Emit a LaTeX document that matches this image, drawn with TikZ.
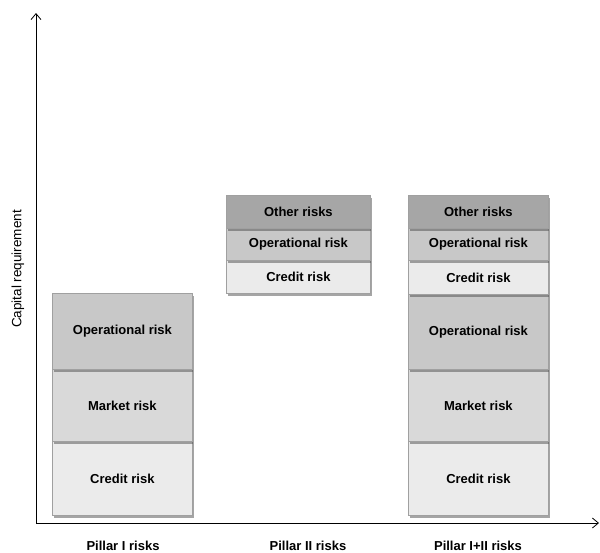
\documentclass[tikz,border=0pt]{standalone}
\usepackage{fontspec}
\setmainfont{Liberation Sans}
\usetikzlibrary{shadows,arrows.meta}
\definecolor{cother}{HTML}{A6A6A6}
\definecolor{coper}{HTML}{C8C8C8}
\definecolor{cmarket}{HTML}{D9D9D9}
\definecolor{ccredit}{HTML}{EBEBEB}
\definecolor{cborder}{HTML}{A0A0A0}
\tikzset{
  seg/.style={draw=cborder, line width=0.8pt, anchor=north west, inner sep=0pt,
    font=\bfseries\fontsize{13}{15}\selectfont,
    drop shadow={shadow xshift=2pt, shadow yshift=-2.5pt, opacity=0.5, fill=black!70}},
  axis/.style={line width=1pt, -{Straight Barb[length=6pt,width=10pt,line width=0.8pt]}},
  lbl/.style={font=\bfseries\fontsize{13}{15}\selectfont}
}
\newcommand{\seg}[7]{% name, x, ytop, ybottom, width, color, text
  \node[seg, fill=#6, minimum width=#5pt, minimum height={(#4-#3)*1pt}] (#1) at (#2,#3) {#7};}
\begin{document}
\begin{tikzpicture}[x=1pt,y=-1pt]
\useasboundingbox (0,0) rectangle (600,552);
\fill[white] (0,0) rectangle (600,552);
% bar 1
\seg{aC}{52}{441}{515}{140}{ccredit}{Credit risk}
\seg{aM}{52}{369}{441}{140}{cmarket}{Market risk}
\seg{aO}{52}{293}{369}{140}{coper}{Operational risk}
% bar 2
\seg{bC}{226}{260}{293}{144}{ccredit}{Credit risk}
\seg{bO}{226}{228}{260}{144}{coper}{Operational risk}
\seg{bX}{226}{195}{228}{144}{cother}{Other risks}
% bar 3
\seg{cC}{408}{441}{515}{140}{ccredit}{Credit risk}
\seg{cM}{408}{369}{441}{140}{cmarket}{Market risk}
\seg{cO}{408}{294}{369}{140}{coper}{Operational risk}
\seg{cC2}{408}{260}{294}{140}{ccredit}{Credit risk}
\seg{cO2}{408}{228}{260}{140}{coper}{Operational risk}
\seg{cX}{408}{195}{228}{140}{cother}{Other risks}
% axes
\coordinate (o) at (36,523);
\coordinate (ytop) at (36,13);
\coordinate (xend) at (599,523);
\draw[axis] (o) -- (ytop);
\draw[axis] (o) -- (xend);
\node[rotate=90, font=\fontsize{13.5}{15}\selectfont] (ylab) at (18,269) {Capital requirement};
\node[lbl] (l1) at (123,546) {Pillar I risks};
\node[lbl] (l2) at (308,546) {Pillar II risks};
\node[lbl] (l3) at (478,546) {Pillar I+II risks};
\end{tikzpicture}
\end{document}
